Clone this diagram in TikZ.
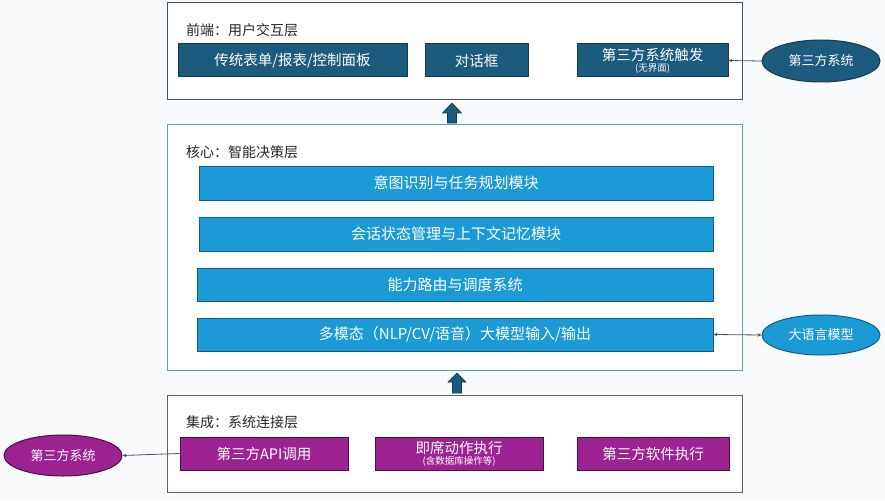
\documentclass[tikz,border=0pt]{standalone}
\usepackage{fontspec}
\setmainfont{Noto Sans CJK SC}
\usetikzlibrary{arrows.meta,shapes.geometric}
\definecolor{bgc}{HTML}{F9FAFC}
\definecolor{topfill}{HTML}{1D5B7E}
\definecolor{topline}{HTML}{163A50}
\definecolor{midfill}{HTML}{1B9AD6}
\definecolor{midline}{HTML}{0F5F86}
\definecolor{botfill}{HTML}{9E2392}
\definecolor{botline}{HTML}{4A1040}
\definecolor{layertop}{HTML}{3D5560}
\definecolor{layermid}{HTML}{5AA89C}
\definecolor{layerbot}{HTML}{6A5A68}
\definecolor{conn}{HTML}{4A5560}
\newcommand\mysmalltext{\fontsize{9.5}{10}\selectfont}
\tikzset{
  layerbox/.style={draw, line width=1pt, fill=white, inner sep=0pt},
  layertitle/.style={anchor=west, inner sep=0pt, font=\fontsize{14}{16}\selectfont, text=black!85},
  boxbase/.style={draw, line width=1pt, inner sep=0pt, text=white, align=center, font=\fontsize{14.5}{16}\selectfont},
  topbox/.style={boxbase, fill=topfill, draw=topline},
  midbox/.style={boxbase, fill=midfill, draw=midline, font=\fontsize{15}{17}\selectfont},
  botbox/.style={boxbase, fill=botfill, draw=botline},
  extell/.style={ellipse, draw, line width=1pt, inner sep=0pt, text=white, font=\fontsize{13}{15}\selectfont},
  connector/.style={draw=conn, line width=0.8pt},
  blockarrow/.style={fill=topfill, draw=topline, line width=0.6pt}
}
\begin{document}
\begin{tikzpicture}[x=1pt,y=-1pt]
\useasboundingbox (0,0) rectangle (885,500);
\fill[bgc] (0,0) rectangle (885,500);

% layers
\node[layerbox, draw=layertop, minimum width=575pt, minimum height=97pt] (L1) at (454.5,51.5) {};
\node[layertitle] (L1t) at (186,30) {前端：用户交互层};
\node[layerbox, draw=layermid, minimum width=575pt, minimum height=246pt] (L2) at (454.5,247) {};
\node[layertitle] (L2t) at (186,152) {核心：智能决策层};
\node[layerbox, draw=layerbot, minimum width=575pt, minimum height=97pt] (L3) at (454.5,443.5) {};
\node[layertitle] (L3t) at (186,422) {集成：系统连接层};

% top boxes
\node[topbox, minimum width=229pt, minimum height=33pt] (t1) at (292.5,60.5) {传统表单/报表/控制面板};
\node[topbox, minimum width=103pt, minimum height=33pt] (t2) at (476.5,60.5) {对话框};
\node[topbox, minimum width=151pt, minimum height=33pt] (t3) at (652.5,60.5) {第三方系统触发\\[-5pt]{\mysmalltext (无界面)}};

% middle boxes
\node[midbox, minimum width=514pt, minimum height=34pt] (m1) at (456,183) {意图识别与任务规划模块};
\node[midbox, minimum width=514pt, minimum height=34pt] (m2) at (456,234) {会话状态管理与上下文记忆模块};
\node[midbox, minimum width=516pt, minimum height=33pt] (m3) at (455,284.5) {能力路由与调度系统};
\node[midbox, minimum width=516pt, minimum height=33pt] (m4) at (455,334.5) {多模态（NLP/CV/语音）大模型输入/输出};

% bottom boxes
\node[botbox, minimum width=168pt, minimum height=33pt] (b1) at (264,453.5) {第三方API调用};
\node[botbox, minimum width=168pt, minimum height=33pt] (b2) at (459,453.5) {即席动作执行\\[-5pt]{\mysmalltext (含数据库操作等)}};
\node[botbox, minimum width=152pt, minimum height=33pt] (b3) at (653,453.5) {第三方软件执行};

% external ellipses
\node[extell, fill=topfill, draw=topline, minimum width=118pt, minimum height=42pt] (e1) at (821,61) {第三方系统};
\node[extell, fill=midfill, draw=midline, minimum width=118pt, minimum height=40pt] (e2) at (821,335) {大语言模型};
\node[extell, fill=botfill, draw=botline, minimum width=118pt, minimum height=41pt] (e3) at (63,455.5) {第三方系统};

% connectors
\draw[connector, -{Stealth[length=4pt,width=3.5pt]}] (e1.west) -- (t3.east);
\draw[connector, {Stealth[length=4pt,width=3.5pt]}-{Stealth[length=4pt,width=3.5pt]}] (m4.east) -- (e2.west);
\draw[connector, -{Stealth[length=4pt,width=3.5pt]}] (b1.west) -- (e3.east);

% block arrows between layers
\coordinate (a1) at (452,123);
\coordinate (a2) at (457,393);
\filldraw[blockarrow, shift={(a1)}] (-4.5,0) -- (-4.5,-10) -- (-9.5,-10) -- (0,-20) -- (9.5,-10) -- (4.5,-10) -- (4.5,0) -- cycle;
\filldraw[blockarrow, shift={(a2)}] (-4.5,0) -- (-4.5,-11) -- (-9,-11) -- (0,-20) -- (9,-11) -- (4.5,-11) -- (4.5,0) -- cycle;
\end{tikzpicture}
\end{document}
